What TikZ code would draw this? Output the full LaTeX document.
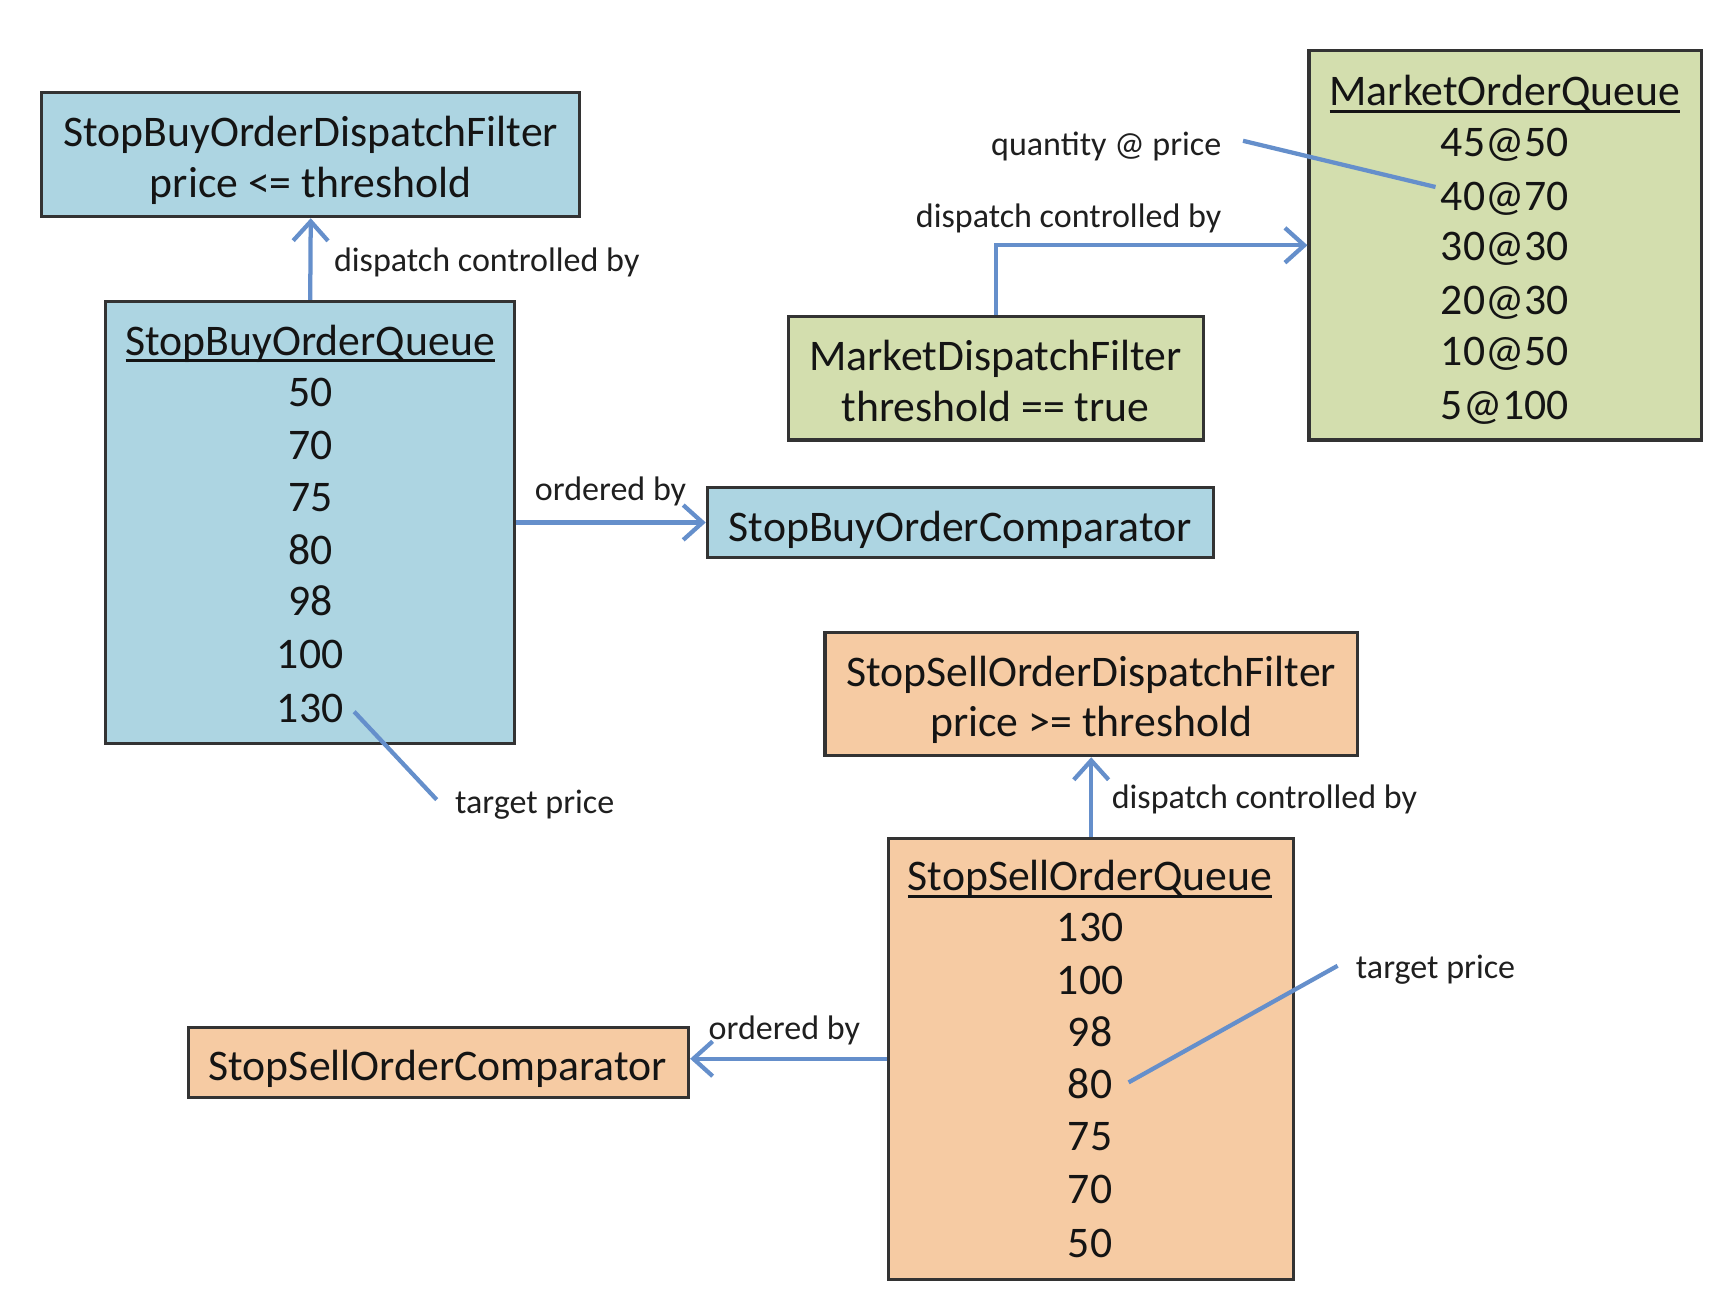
\documentclass[tikz,border=0pt]{standalone}
\usepackage{fontspec}
\setmainfont{Carlito}
\usetikzlibrary{arrows.meta,fit}
\definecolor{bluefill}{HTML}{ADD5E2}
\definecolor{greenfill}{HTML}{D3DEAE}
\definecolor{orangefill}{HTML}{F6CBA3}
\definecolor{arrowblue}{HTML}{658FCB}
\definecolor{edgecol}{HTML}{333333}
\newcommand{\myul}[1]{\setbox0\hbox{#1}\rlap{\rule[-1.8pt]{\wd0}{0.75pt}}\box0}
\tikzset{
  box/.style={draw=edgecol, line width=0.8pt, inner sep=0pt},
  maintxt/.style={font=\fontsize{11.3}{13.4}\selectfont, inner sep=0pt, text=black!92, anchor=base},
  lbl/.style={font=\fontsize{8.8}{10}\selectfont, inner sep=0pt, text=black!88},
  conn/.style={draw=arrowblue, line width=1.1pt},
  arr/.style={conn, -{Straight Barb[length=5pt,width=9pt,line width=1.1pt]}},
}
\begin{document}
\begin{tikzpicture}[x=0.01cm,y=-0.01cm]
\useasboundingbox (0,0) rectangle (1560,1186);

% ---------- boxes ----------
\node[box, fill=bluefill, fit={(38,84) (527,197)}] (sbf) {};
\node[box, fill=bluefill, fit={(96,274) (468,676)}] (sbq) {};
\node[box, fill=bluefill, fit={(643,443) (1103,507)}] (sbc) {};
\node[box, fill=greenfill, fit={(717,288) (1094,400)}] (mdf) {};
\node[box, fill=greenfill, fit={(1190,46) (1547,400)}] (moq) {};
\node[box, fill=orangefill, fit={(750,575) (1234,687)}] (ssf) {};
\node[box, fill=orangefill, fit={(808,762) (1176,1163)}] (ssq) {};
\node[box, fill=orangefill, fit={(171,934) (626,998)}] (ssc) {};

% ---------- texts ----------
\node[maintxt] (sbf1) at (282.5,133) {StopBuyOrderDispatchFilter};
\node[maintxt] (sbf2) at (282.5,180) {price <= threshold};

\node[maintxt] (sbq0) at (282,323) {\myul{StopBuyOrderQueue}};
\node[maintxt] (sbq1) at (282,370) {50};
\node[maintxt] (sbq2) at (282,418) {70};
\node[maintxt] (sbq3) at (282,465) {75};
\node[maintxt] (sbq4) at (282,513) {80};
\node[maintxt] (sbq5) at (282,560) {98};
\node[maintxt] (sbq6) at (282,608) {100};
\node[maintxt] (sbq7) at (282,657) {130};

\node[maintxt] (sbc1) at (873,492) {StopBuyOrderComparator};

\node[maintxt] (mdf1) at (905,337) {MarketDispatchFilter};
\node[maintxt] (mdf2) at (905,383) {threshold == true};

\node[maintxt] (moq0) at (1368,96) {\myul{MarketOrderQueue}};
\node[maintxt] (moq1) at (1368,142) {45@50};
\node[maintxt] (moq2) at (1368,191) {40@70};
\node[maintxt] (moq3) at (1368,237) {30@30};
\node[maintxt] (moq4) at (1368,286) {20@30};
\node[maintxt] (moq5) at (1368,332) {10@50};
\node[maintxt] (moq6) at (1368,381) {5@100};

\node[maintxt] (ssf1) at (992,624) {StopSellOrderDispatchFilter};
\node[maintxt] (ssf2) at (992,670) {price >= threshold};

\node[maintxt] (ssq0) at (991,810) {\myul{StopSellOrderQueue}};
\node[maintxt] (ssq1) at (991,856) {130};
\node[maintxt] (ssq2) at (991,904) {100};
\node[maintxt] (ssq3) at (991,951) {98};
\node[maintxt] (ssq4) at (991,999) {80};
\node[maintxt] (ssq5) at (991,1046) {75};
\node[maintxt] (ssq6) at (991,1094) {70};
\node[maintxt] (ssq7) at (991,1143) {50};

\node[maintxt] (ssc1) at (398,982) {StopSellOrderComparator};

% ---------- labels ----------
\node[lbl, anchor=base west] (l1) at (303,247) {dispatch controlled by};
\node[lbl, anchor=base] (l2) at (555,455) {ordered by};
\node[lbl, anchor=base west] (l3) at (413,740) {target price};
\node[lbl, anchor=base east] (l4) at (1111,141) {quantity @ price};
\node[lbl, anchor=base east] (l5) at (1111,207) {dispatch controlled by};
\node[lbl, anchor=base west] (l6) at (1010,735) {dispatch controlled by};
\node[lbl, anchor=base west] (l7) at (1232,890) {target price};
\node[lbl, anchor=base] (l8) at (713,945) {ordered by};

% ---------- connectors ----------
\draw[arr] (sbq.north) -- (sbf.south);
\draw[arr] (sbq.east) -- (sbc.west |- sbq.east);
\draw[arr] (mdf.north) |- (moq.west);
\draw[arr] (ssq.north) -- (ssf.south);
\draw[arr] (ssq.west) -- (ssc.east |- ssq.west);

\coordinate (tpa) at (397,727);
\coordinate (tpb) at (322,647);
\draw[conn] (tpa) -- (tpb);
\coordinate (qpa) at (1130,128);
\coordinate (qpb) at (1305,170);
\draw[conn] (qpa) -- (qpb);
\coordinate (tsa) at (1216,878);
\coordinate (tsb) at (1026,984);
\draw[conn] (tsa) -- (tsb);
\end{tikzpicture}
\end{document}
